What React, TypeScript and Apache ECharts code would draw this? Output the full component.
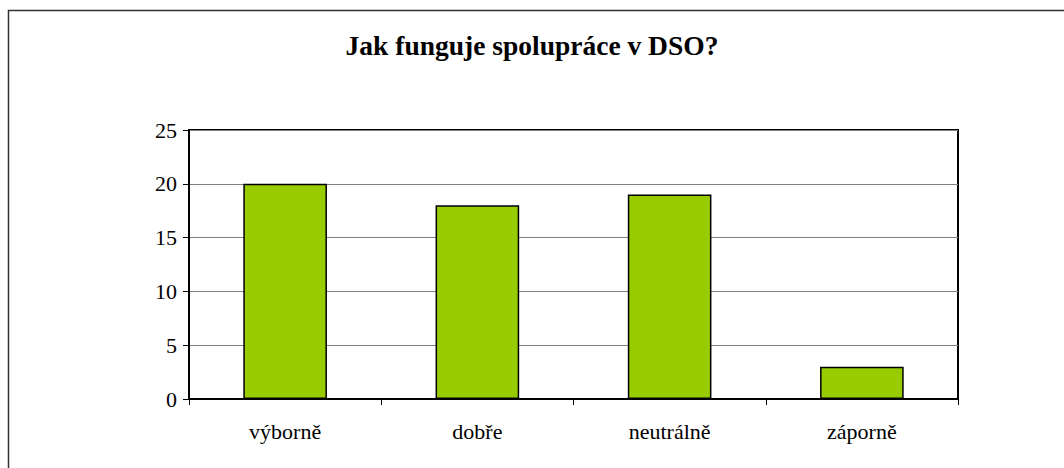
import React, { useEffect, useRef } from "react";
import * as echarts from "echarts";

const categories = ["výborně", "dobře", "neutrálně", "záporně"];
const values = [20, 18, 19, 3];
const titleText = "Jak funguje spolupráce v DSO?";

export default function App() {
  const ref = useRef<HTMLDivElement>(null);
  useEffect(() => {
    if (!ref.current) return;
    const chart = echarts.init(ref.current, null, { renderer: "svg" });
    const font = "'Liberation Serif', 'Times New Roman', serif";
    chart.setOption({
      animation: false,
      backgroundColor: "#fff",
      title: {
        text: titleText,
        left: "center",
        top: 26,
        textStyle: { fontFamily: font, fontWeight: "bold", fontSize: 27.5, color: "#000" },
      },
      graphic: [
        {
          type: "rect",
          shape: { x: 8.5, y: 10.5, width: 1100, height: 500 },
          style: { fill: "none", stroke: "#333", lineWidth: 1.5 },
          silent: true,
        },
      ],
      grid: {
        left: 189,
        right: 106,
        top: 130,
        bottom: 69,
        show: true,
        borderColor: "#000",
        borderWidth: 2,
        backgroundColor: "transparent",
      },
      xAxis: {
        type: "category",
        data: categories,
        axisLine: { lineStyle: { color: "#000", width: 2 } },
        axisTick: { show: true, alignWithLabel: false, length: 6, lineStyle: { color: "#000", width: 1 } },
        axisLabel: { fontFamily: font, fontSize: 22, color: "#000", margin: 21 },
      },
      yAxis: {
        type: "value",
        min: 0,
        max: 25,
        interval: 5,
        axisLine: { show: true, lineStyle: { color: "#000", width: 2 } },
        axisTick: { show: true, length: 6, lineStyle: { color: "#000", width: 1 } },
        axisLabel: { fontFamily: font, fontSize: 22, color: "#000", margin: 12 },
        splitLine: { show: true, lineStyle: { color: "#808080", width: 1 } },
      },
      series: [
        {
          type: "bar",
          data: values,
          barWidth: "43.5%",
          itemStyle: { color: "#99CC00", borderColor: "#000", borderWidth: 1.5 },
        },
      ],
    });
    return () => chart.dispose();
  }, []);
  return (
    <div
      ref={ref}
      style={{ position: "fixed", left: 0, top: 0, width: 1064, height: 468 }}
    />
  );
}
